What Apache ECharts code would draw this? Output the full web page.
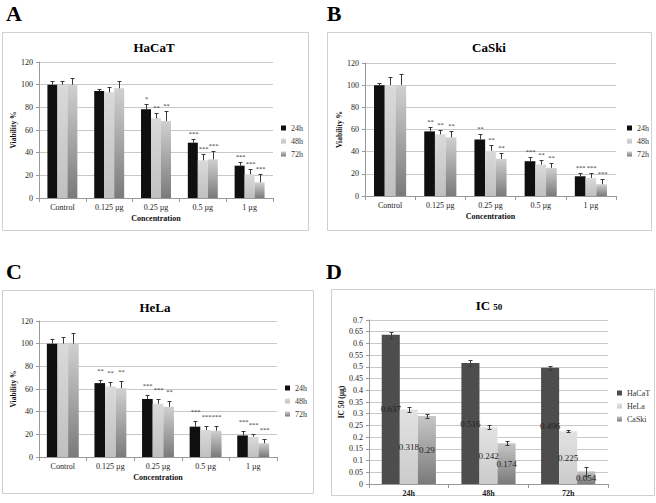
<!DOCTYPE html>
<html>
<head>
<meta charset="utf-8">
<script src="https://cdn.jsdelivr.net/npm/echarts@6/dist/echarts.min.js"></script>
<style>
  html, body { margin: 0; padding: 0; background: #fff; }
  #chart { width: 656px; height: 503px; }
</style>
</head>
<body>
<div id="chart"></div>
<script>
// categories
const concentrations = ['Control', '0.125 µg', '0.25 µg', '0.5 µg', '1 µg'];
const times = ['24h', '48h', '72h'];
const cellLines = ['HaCaT', 'HeLa', 'CaSki'];

// HaCaT viability %
const hacat24 = [100, 94.4, 78.2, 48.8, 28.5];
const hacat48 = [100, 93.2, 70.3, 33.2, 20.9];
const hacat72 = [100, 96.8, 67.9, 34.1, 13.8];
const hacatErr24 = [3.5, 1.8, 4.7, 3.6, 3.3];
const hacatErr48 = [3.5, 5.0, 4.7, 5.3, 5.0];
const hacatErr72 = [6.2, 6.7, 9.1, 7.4, 7.7];
const hacatStars24 = ['', '', '*', '***', '***'];
const hacatStars48 = ['', '', '**', '***', '***'];
const hacatStars72 = ['', '', '**', '***', '***'];

// CaSki viability %
const caski24 = [100, 58.3, 51.0, 31.4, 17.8];
const caski48 = [100, 55.6, 40.8, 28.4, 16.3];
const caski72 = [100, 52.9, 33.5, 25.4, 10.6];
const caskiErr24 = [2.1, 4.2, 4.6, 3.6, 3.0];
const caskiErr48 = [7.2, 3.9, 5.1, 3.9, 4.2];
const caskiErr72 = [10.0, 5.7, 5.2, 4.5, 5.1];
const caskiStars24 = ['', '**', '**', '***', '***'];
const caskiStars48 = ['', '**', '**', '**', '***'];
const caskiStars72 = ['', '**', '**', '**', '***'];

// HeLa viability %
const hela24 = [100, 65.2, 51.2, 26.8, 19.0];
const hela48 = [100, 62.2, 47.0, 23.8, 17.9];
const hela72 = [100, 60.7, 44.3, 23.2, 12.2];
const helaErr24 = [4.5, 2.7, 3.3, 5.0, 3.9];
const helaErr48 = [6.0, 4.2, 4.5, 3.6, 2.6];
const helaErr72 = [9.5, 6.6, 4.8, 4.5, 3.3];
const helaStars24 = ['', '**', '***', '***', '***'];
const helaStars48 = ['', '**', '***', '***', '***'];
const helaStars72 = ['', '**', '**', '***', '***'];

// IC50 (µg)
const icHaCaT = [0.637, 0.516, 0.496];
const icHeLa = [0.318, 0.242, 0.225];
const icCaSki = [0.29, 0.174, 0.054];
const icErrHaCaT = [0.013, 0.012, 0.009];
const icErrHeLa = [0.011, 0.009, 0.004];
const icErrCaSki = [0.010, 0.008, 0.019];

const serif = '"Liberation Serif", "DejaVu Serif", serif';

function grad(top, bottom) {
  return new echarts.graphic.LinearGradient(0, 0, 0, 1, [
    { offset: 0, color: top }, { offset: 1, color: bottom }
  ]);
}

const timeColors = ['#0f0f0f', grad('#dadada', '#c0c0c0'), grad('#d0d0d0', '#7a7a7a')];
const lineColors = ['#4d4d4d', grad('#e2e2e2', '#cbcbcb'), grad('#c6c6c6', '#7a7a7a')];

function barSeries(gi, name, vals, color, gap, label) {
  return {
    type: 'bar', name: name, xAxisIndex: gi, yAxisIndex: gi,
    data: vals, barGap: '0%', barCategoryGap: gap,
    itemStyle: { color: color },
    label: label ? {
      show: true, position: 'inside', color: '#222', fontFamily: serif, fontSize: 9,
      textBorderWidth: 0
    } : { show: false },
    emphasis: { disabled: true }
  };
}

// error bars (and significance stars) drawn over the bars
function errSeries(gi, k, vals, errs, stars, gap, both, starOff) {
  return {
    type: 'custom', xAxisIndex: gi, yAxisIndex: gi, z: 5, silent: true,
    data: vals.map((v, i) => [i, v, errs[i]]),
    renderItem: function (params, api) {
      const i = api.value(0), v = api.value(1), e = api.value(2);
      const band = api.size([1, 0])[0];
      const bw = band * (1 - gap) / 3;
      const p = api.coord([i, v]);
      const x = Math.round(p[0] + (k - 1) * bw) + 0.5;
      const yTop = Math.round(api.coord([i, v + e])[1]) + 0.5;
      const yBot = both ? Math.round(api.coord([i, v - e])[1]) + 0.5 : p[1];
      const st = { stroke: '#3a3a3a', lineWidth: 1 };
      const children = [
        { type: 'line', shape: { x1: x, y1: yTop, x2: x, y2: yBot }, style: st },
        { type: 'line', shape: { x1: x - 2, y1: yTop, x2: x + 2, y2: yTop }, style: st }
      ];
      if (both) children.push({ type: 'line', shape: { x1: x - 2, y1: yBot, x2: x + 2, y2: yBot }, style: st });
      const s = stars ? stars[params.dataIndex] : '';
      if (s) {
        children.push({
          type: 'text', x: x, y: yTop - starOff,
          style: { text: s, fill: '#333', font: '6.5px ' + serif, align: 'center', verticalAlign: 'middle' }
        });
      }
      return { type: 'group', children: children };
    }
  };
}

function xAxis(gi, data, name, bold) {
  return {
    type: 'category', gridIndex: gi, data: data,
    axisLine: { show: true, lineStyle: { color: '#9a9a9a' } },
    axisTick: { show: true, length: 4, lineStyle: { color: '#9a9a9a' } },
    axisLabel: { interval: 0, margin: 5, fontFamily: serif, fontSize: 8, color: '#222', fontWeight: bold ? 'bold' : 'normal' },
    splitLine: { show: false },
    name: name, nameLocation: 'middle', nameGap: 16,
    nameTextStyle: { fontFamily: serif, fontSize: 8, fontWeight: 'bold', color: '#111' }
  };
}

function yAxis(gi, max, interval, name, gap) {
  return {
    type: 'value', gridIndex: gi, min: 0, max: max, interval: interval,
    axisLine: { show: true, lineStyle: { color: '#9a9a9a' } },
    axisTick: { show: true, length: 3, lineStyle: { color: '#9a9a9a' } },
    splitLine: { show: true, lineStyle: { color: '#c8c8c8' } },
    axisLabel: { margin: 6, fontFamily: serif, fontSize: 8, color: '#222' },
    name: name, nameLocation: 'middle', nameRotate: 90, nameGap: gap,
    nameTextStyle: { fontFamily: serif, fontSize: 7.5, fontWeight: 'bold', color: '#111' }
  };
}

function legend(names, left, top) {
  return {
    data: names, orient: 'vertical', left: left, top: top, padding: 0,
    icon: 'rect', itemWidth: 5, itemHeight: 5, itemGap: 5,
    textStyle: { fontFamily: serif, fontSize: 8, color: '#333' },
    selectedMode: false
  };
}

function frame(x, y, w, h) {
  return { type: 'rect', z: -10, shape: { x: x + 0.5, y: y + 0.5, width: w, height: h },
    style: { fill: '#fff', stroke: '#cfcfcf', lineWidth: 1 } };
}
function label(text, x, y, size) {
  return { type: 'text', x: x, y: y,
    style: { text: text, font: 'bold ' + size + 'px ' + serif, fill: '#000',
      align: 'center', textAlign: 'center', verticalAlign: 'middle', textVerticalAlign: 'middle' } };
}

const panels = [
  { vals: [hacat24, hacat48, hacat72], errs: [hacatErr24, hacatErr48, hacatErr72], stars: [hacatStars24, hacatStars48, hacatStars72], gap: 0.36, off: 6 },
  { vals: [caski24, caski48, caski72], errs: [caskiErr24, caskiErr48, caskiErr72], stars: [caskiStars24, caskiStars48, caskiStars72], gap: 0.36, off: 6 },
  { vals: [hela24, hela48, hela72], errs: [helaErr24, helaErr48, helaErr72], stars: [helaStars24, helaStars48, helaStars72], gap: 0.33, off: 10 }
];

const series = [];
panels.forEach((p, gi) => {
  times.forEach((t, k) => {
    series.push(barSeries(gi, t, p.vals[k], timeColors[k], Math.round(p.gap * 100) + '%', false));
  });
  times.forEach((t, k) => {
    series.push(errSeries(gi, k, p.vals[k], p.errs[k], p.stars[k], p.gap, false, p.off));
  });
});
const icVals = [icHaCaT, icHeLa, icCaSki];
const icErrs = [icErrHaCaT, icErrHeLa, icErrCaSki];
cellLines.forEach((c, k) => series.push(barSeries(3, c, icVals[k], lineColors[k], '32%', true)));
cellLines.forEach((c, k) => series.push(errSeries(3, k, icVals[k], icErrs[k], null, 0.32, true, 0)));

const chart = echarts.init(document.getElementById('chart'), null, { renderer: 'svg' });
chart.setOption({
  animation: false,
  backgroundColor: '#fff',
  grid: [
    { left: 39, top: 62, width: 234, height: 136, outerBoundsMode: 'none' },
    { left: 365, top: 63, width: 251, height: 133, outerBoundsMode: 'none' },
    { left: 39, top: 321, width: 238, height: 136, outerBoundsMode: 'none' },
    { left: 369, top: 320, width: 239, height: 164, outerBoundsMode: 'none' }
  ],
  xAxis: [
    xAxis(0, concentrations, 'Concentration', false),
    xAxis(1, concentrations, 'Concentration', false),
    xAxis(2, concentrations, 'Concentration', false),
    xAxis(3, times, '', true)
  ],
  yAxis: [
    yAxis(0, 120, 20, 'Viability %', 21),
    yAxis(1, 120, 20, 'Viability %', 21),
    yAxis(2, 120, 20, 'Viability %', 21),
    yAxis(3, 0.7, 0.05, 'IC 50 (µg)', 19)
  ],
  legend: [
    legend(times, 281, 124),
    legend(times, 627, 124),
    legend(times, 285, 384),
    legend(cellLines, 617, 389)
  ],
  tooltip: { show: false },
  graphic: [
    frame(2, 32, 306, 198),
    frame(327, 32, 324, 198),
    frame(2, 290, 311, 203),
    frame(331, 289, 323, 206),
    label('A', 14, 13, 22),
    label('B', 334, 13, 22),
    label('C', 14, 271, 22),
    label('D', 334, 271, 22),
    label('HaCaT', 154, 47, 13),
    label('CaSki', 489, 47, 13),
    label('HeLa', 155, 307, 13),
    { type: 'text', x: 489, y: 305,
      style: { text: '{a|IC }{b|50}', align: 'center', textAlign: 'center', verticalAlign: 'middle', textVerticalAlign: 'middle',
        rich: { a: { font: 'bold 13px ' + serif, fill: '#000', color: '#000' },
                b: { font: 'bold 9px ' + serif, fill: '#000', color: '#000', padding: [3, 0, 0, 0] } } } }
  ],
  series: series
});
</script>
</body>
</html>
